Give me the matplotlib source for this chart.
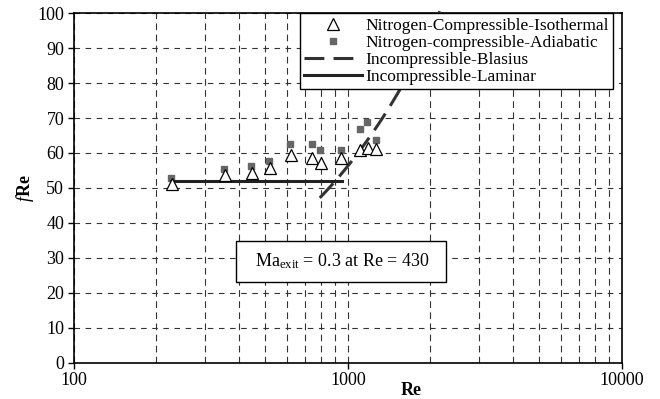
import numpy as np
import matplotlib
matplotlib.use("Agg")
import matplotlib.pyplot as plt
from matplotlib.ticker import FixedLocator, NullFormatter

plt.rcParams['font.family'] = ['Liberation Serif', 'DejaVu Serif']
plt.rcParams['mathtext.fontset'] = 'custom'
plt.rcParams['mathtext.rm'] = 'Liberation Serif'
plt.rcParams['mathtext.it'] = 'Liberation Serif:italic'
plt.rcParams['mathtext.bf'] = 'Liberation Serif:bold'

# Datos
re_iso = [228, 355, 445, 519, 621, 740, 798, 948, 1109, 1182, 1267]
fre_iso = [51.0, 53.8, 54.3, 55.6, 59.5, 58.7, 57.2, 58.7, 60.8, 61.4, 61.2]

re_adi = [227, 353, 442, 516, 616, 737, 793, 948, 1104, 1177, 1264]
fre_adi = [52.7, 55.5, 56.2, 57.7, 62.6, 62.6, 60.9, 60.9, 67.0, 69.0, 63.7]

re_lam = [227, 955]
fre_lam = [52.1, 52.1]

re_blasius = [790, 2200]

# Blasius (Darcy): fRe = 0.3164 Re^0.75
re_b = np.linspace(re_blasius[0], re_blasius[1], 50)
fre_b = 0.3164 * re_b ** 0.75

fig = plt.figure(figsize=(6.6, 3.99), dpi=100)
ax = fig.add_axes([0.112, 0.091, 0.830, 0.876])

ax.set_xscale('log')
ax.set_xlim(100, 10000)
ax.set_ylim(0, 100)

ax.plot(re_iso, fre_iso, linestyle='none', marker='^', markersize=8,
        markerfacecolor='white', markeredgecolor='black', markeredgewidth=0.9,
        label='Nitrogen-Compressible-Isothermal', zorder=4)
ax.plot(re_adi, fre_adi, linestyle='none', marker='s', markersize=4.5,
        color='#666666', label='Nitrogen-compressible-Adiabatic', zorder=3)
ax.plot(re_b, fre_b, color='#333333', linewidth=2.2, dashes=(6.5, 3),
        label='Incompressible-Blasius', clip_on=False, zorder=3)
ax.plot(re_lam, fre_lam, color='#222222', linewidth=2.2,
        label='Incompressible-Laminar', zorder=3)

# rejilla
ax.xaxis.set_major_locator(FixedLocator([100, 1000, 10000]))
ax.xaxis.set_minor_locator(FixedLocator(
    [v * d for d in (100, 1000) for v in range(2, 10)]))
ax.xaxis.set_minor_formatter(NullFormatter())
ax.set_xticklabels(['100', '1000', '10000'])
ax.set_yticks(np.arange(0, 101, 10))
ax.grid(True, which='both', axis='x', color='#333333', linewidth=0.8,
        dashes=(6, 4))
ax.grid(True, which='major', axis='y', color='#333333', linewidth=0.8,
        dashes=(5, 5))
ax.set_axisbelow(True)
ax.tick_params(which='minor', length=0)
ax.tick_params(which='major', length=4, width=1, labelsize=13, pad=3)
for s in ax.spines.values():
    s.set_linewidth(1.2)

ax.set_xlabel('Re', fontsize=13, fontweight='bold')
ax.xaxis.set_label_coords(0.615, -0.055)
ax.set_ylabel(r'$\mathbf{\mathit{f}}$Re', fontsize=13, fontweight='bold',
              labelpad=1)

ax.text(943, 29, r'  Ma$_{\rm exit}$ = 0.3 at Re = 430  ', fontsize=13,
        ha='center', va='center', zorder=5,
        bbox=dict(boxstyle='square,pad=0.6', facecolor='white',
                  edgecolor='black', linewidth=1.0))

leg = ax.legend(loc='upper right', bbox_to_anchor=(0.984, 1.0),
                borderaxespad=0, fontsize=12.5, fancybox=False,
                framealpha=1, edgecolor='black', handlelength=3.3,
                handletextpad=0.2, labelspacing=0.05, borderpad=0.25)
leg.get_frame().set_linewidth(1.0)
leg.set_zorder(6)

fig.savefig('out.png', dpi=100)
